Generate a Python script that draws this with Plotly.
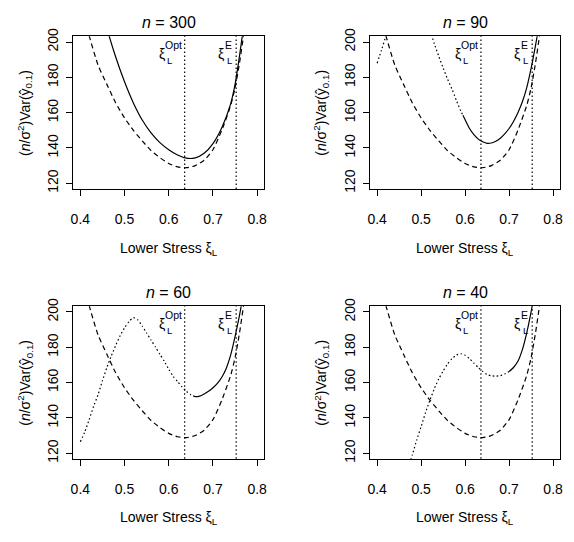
import plotly.graph_objects as go

# ---------------- data ----------------
n_values = [300, 90, 60, 40]
xi_opt = 0.636
xi_e = 0.7525

x_ticks = [0.4, 0.5, 0.6, 0.7, 0.8]
x_tick_text = ["0.4", "0.5", "0.6", "0.7", "0.8"]
y_ticks = [120, 140, 160, 180, 200]
y_tick_text = ["120", "140", "160", "180", "200"]

# asymptotic (large-sample) variance, dashed, same in every panel
x_asym = [0.41, 0.42, 0.44, 0.46, 0.48, 0.50, 0.52, 0.54, 0.56, 0.58, 0.60, 0.62,
          0.64, 0.66, 0.68, 0.70, 0.72, 0.74, 0.75, 0.76, 0.77, 0.78]
v_asym = [213, 203.5, 187, 176, 165.5, 157, 150, 144, 138.5, 134.5, 131.2, 129.3,
          128.8, 130, 133, 139, 150, 164, 174, 188, 205, 224]

# n = 300
x_solid_300 = [0.455, 0.46, 0.48, 0.50, 0.52, 0.54, 0.56, 0.58, 0.60, 0.62, 0.64,
               0.66, 0.68, 0.70, 0.72, 0.74, 0.75, 0.76, 0.77]
v_solid_300 = [213, 208, 191.5, 177.5, 165.5, 155.8, 148.5, 143, 139, 136, 134.2,
               134.4, 137, 142.5, 151.5, 165, 176, 192, 210]
x_dot_300 = []
v_dot_300 = []

# n = 90
x_solid_90 = [0.595, 0.60, 0.61, 0.62, 0.63, 0.64, 0.65, 0.66, 0.67, 0.68, 0.69,
              0.70, 0.71, 0.72, 0.73, 0.74, 0.75, 0.76, 0.765, 0.77]
v_solid_90 = [158.5, 156, 151, 147.5, 145, 143.5, 142.6, 142.8, 143.8, 145.5, 148,
              151, 155, 160, 166, 174, 185, 198, 205, 213]
x_dot_90 = [0.40, 0.41, 0.42, 0.43, None, 0.515, 0.52, 0.53, 0.54, 0.55, 0.56,
            0.57, 0.58, 0.59, 0.595]
v_dot_90 = [188, 195.5, 203.5, 212, None, 213, 207, 199, 192, 185.3, 179,
            173.4, 167, 161, 158.5]

# n = 60
x_solid_60 = [0.655, 0.66, 0.67, 0.68, 0.69, 0.70, 0.71, 0.72, 0.73, 0.74, 0.75,
              0.76, 0.765, 0.77]
v_solid_60 = [152.5, 152, 152.3, 153.5, 155, 157, 159.5, 163, 168, 175.5, 186,
              198, 205, 213]
x_dot_60 = [0.40, 0.41, 0.42, 0.43, 0.44, 0.45, 0.46, 0.47, 0.48, 0.49, 0.50,
            0.51, 0.52, 0.53, 0.54, 0.55, 0.56, 0.57, 0.58, 0.59, 0.60, 0.61,
            0.62, 0.63, 0.64, 0.65, 0.655]
v_dot_60 = [126.5, 132, 139, 146.5, 153, 161, 168.5, 175, 181, 186.5, 191,
            194.5, 196.7, 195.5, 192, 188, 184, 180, 176, 172, 167.5, 163.5,
            160.5, 157.5, 155, 153, 152.5]

# n = 40
x_solid_40 = [0.70, 0.71, 0.72, 0.73, 0.74, 0.75, 0.755, 0.76]
v_solid_40 = [166.2, 168.5, 172, 178.5, 188, 200, 207, 215]
x_dot_40 = [0.47, 0.48, 0.49, 0.50, 0.51, 0.52, 0.53, 0.54, 0.55, 0.56, 0.57,
            0.58, 0.59, 0.60, 0.61, 0.62, 0.63, 0.64, 0.65, 0.66, 0.67, 0.68,
            0.69, 0.70]
v_dot_40 = [112, 119, 127.5, 135, 143, 150, 156.5, 162, 166.5, 170.5, 173.5,
            175.5, 176.3, 175.5, 173.5, 171, 168.5, 166.3, 164.5, 163.8, 163.6,
            163.9, 164.8, 166.2]

solid_x = [x_solid_300, x_solid_90, x_solid_60, x_solid_40]
solid_v = [v_solid_300, v_solid_90, v_solid_60, v_solid_40]
dot_x = [x_dot_300, x_dot_90, x_dot_60, x_dot_40]
dot_v = [v_dot_300, v_dot_90, v_dot_60, v_dot_40]

# ---------------- layout helpers ----------------
W, H = 574, 542
FONT = "Liberation Sans, Arial, Helvetica, sans-serif"
# plot boxes in pixels: (left, right, top, bottom)
boxes = [(71, 264, 29, 185), (371, 563, 29, 185),
         (71, 264, 305, 461), (371, 563, 305, 461)]
X_RANGE = [0.384, 0.816]
Y_RANGE = [116.8, 203.2]

DASH = "5px,3.5px"
DOT = "1.5px,2.5px"
LW = 1.2


def px(x):
    return x / W


def py(y):
    return 1 - y / H


fig = go.Figure()
annotations = []
shapes = []
layout_axes = {}

for i, n in enumerate(n_values):
    sfx = "" if i == 0 else str(i + 1)
    xa, ya = "x" + sfx, "y" + sfx
    left, right, top, bottom = boxes[i]

    fig.add_trace(go.Scatter(x=x_asym, y=v_asym, mode="lines", xaxis=xa, yaxis=ya,
                             line=dict(color="black", width=LW, dash=DASH, shape="spline",
                                       smoothing=0.6),
                             showlegend=False, hoverinfo="skip"))
    if dot_x[i]:
        fig.add_trace(go.Scatter(x=dot_x[i], y=dot_v[i], mode="lines", xaxis=xa, yaxis=ya,
                                 connectgaps=False,
                                 line=dict(color="black", width=LW, dash=DOT, shape="spline",
                                           smoothing=0.6),
                                 showlegend=False, hoverinfo="skip"))
    fig.add_trace(go.Scatter(x=solid_x[i], y=solid_v[i], mode="lines", xaxis=xa, yaxis=ya,
                             line=dict(color="black", width=LW, shape="spline", smoothing=0.6),
                             showlegend=False, hoverinfo="skip"))

    layout_axes["xaxis" + sfx] = dict(
        domain=[px(left), px(right)], anchor=ya, range=X_RANGE,
        tickmode="array", tickvals=x_ticks, ticktext=x_tick_text,
        ticks="outside", ticklen=6, tickwidth=1, tickcolor="black",
        showline=True, linecolor="black", linewidth=1, mirror=True,
        showgrid=False, zeroline=False, ticklabelstandoff=11,
        tickfont=dict(family=FONT, size=14, color="black"),
    )
    layout_axes["yaxis" + sfx] = dict(
        domain=[py(bottom), py(top)], anchor=xa, range=Y_RANGE,
        tickmode="array", tickvals=y_ticks, ticktext=y_tick_text,
        ticks="outside", ticklen=6, tickwidth=1, tickcolor="black", tickangle=-90,
        showline=True, linecolor="black", linewidth=1, mirror=True,
        showgrid=False, zeroline=False, ticklabelstandoff=3,
        tickfont=dict(family=FONT, size=14, color="black"),
    )

    # vertical reference lines
    for xv in (xi_opt, xi_e):
        shapes.append(dict(type="line", xref=xa, yref=ya + " domain", x0=xv, x1=xv,
                           y0=0, y1=1, line=dict(color="black", width=LW, dash=DOT)))

    cx = (left + right) / 2
    cy = (top + bottom) / 2
    # panel title
    annotations.append(dict(text="<i>n</i> = %d" % n, x=px(cx), y=py(top - 14.5),
                            xref="paper", yref="paper", showarrow=False,
                            xanchor="center", yanchor="middle",
                            font=dict(family=FONT, size=16, color="black")))
    # axis titles
    annotations.append(dict(text="Lower Stress ξ<sub>L</sub>", x=px(cx), y=py(bottom + 61),
                            xref="paper", yref="paper", showarrow=False,
                            xanchor="center", yanchor="middle",
                            font=dict(family=FONT, size=14, color="black")))
    annotations.append(dict(text="(<i>n</i>/σ<sup>2</sup>)Var(y\u0302<sub>0.1</sub>)",
                            x=px(left - 49.5), y=py(cy), textangle=-90,
                            xref="paper", yref="paper", showarrow=False,
                            xanchor="center", yanchor="middle",
                            font=dict(family=FONT, size=14, color="black")))
    # ξ labels next to the vertical lines: ξ, superscript above-right, subscript L below-right
    for xv, sup, sh_sup, sh_xi in ((xi_opt, "Opt", -1.5, -19),
                                   (xi_e, "E", -3.3, -11)):
        annotations.append(dict(text=sup, x=xv, xref=xa, y=py(top + 9), yref="paper",
                                xshift=sh_sup, showarrow=False, xanchor="right",
                                yanchor="middle", borderpad=0,
                                font=dict(family=FONT, size=10.5, color="black")))
        annotations.append(dict(text="ξ", x=xv, xref=xa, y=py(top + 18), yref="paper",
                                xshift=sh_xi, showarrow=False, xanchor="right",
                                yanchor="middle", borderpad=0,
                                font=dict(family=FONT, size=14, color="black")))
        annotations.append(dict(text="L", x=xv, xref=xa, y=py(top + 25), yref="paper",
                                xshift=sh_xi + 0.5, showarrow=False, xanchor="left",
                                yanchor="middle", borderpad=0,
                                font=dict(family=FONT, size=9.5, color="black")))

fig.update_layout(
    width=W, height=H, margin=dict(l=0, r=0, t=0, b=0),
    paper_bgcolor="white", plot_bgcolor="white",
    font=dict(family=FONT, color="black"),
    annotations=annotations, shapes=shapes, showlegend=False,
    **layout_axes,
)

fig.write_html("out.html")
